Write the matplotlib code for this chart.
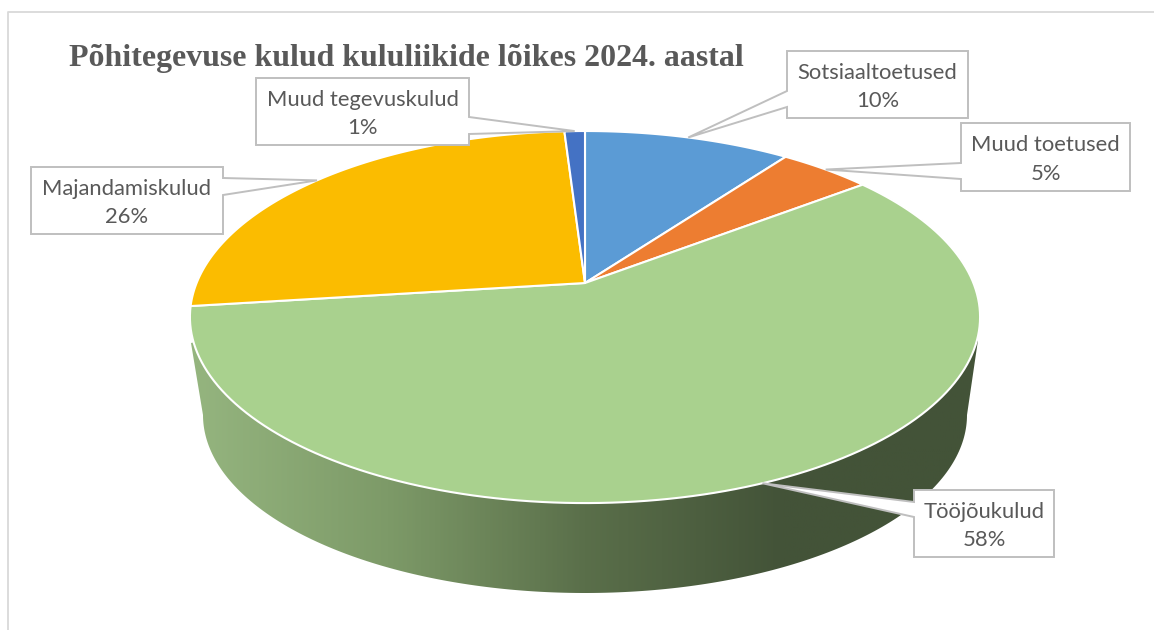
import matplotlib
matplotlib.use('Agg')
import matplotlib.pyplot as plt
import numpy as np
from matplotlib.colors import LinearSegmentedColormap
from matplotlib.patches import Polygon

title = 'Põhitegevuse kulud kululiikide lõikes 2024. aastal'
categories = ['Sotsiaaltoetused', 'Muud toetused', 'Tööjõukulud', 'Majandamiskulud', 'Muud tegevuskulud']
shares = [10.1, 4.51, 58.39, 26.0, 1.0]
colors = ['#5b9bd5', '#ed7d31', '#a9d18e', '#fbbc00', '#4472c4']

# label box (left, top, right, bottom), leader side x, leader y at the box
boxes = [(787, 51, 968, 118), (961, 123, 1130, 191), (914, 490, 1054, 557), (31, 167, 223, 234), (256, 78, 469, 145)]
leader_y = [(91, 107), (163, 179), (502, 517), (178, 195), (117, 134)]
leader_side = [787, 961, 914, 223, 469]

# pie top is a circle seen in perspective
apex_x, apex_y = 585, 283
rx, ry, persp = 388.4, 179.8, 0.183


def rim(pct):
    a = np.radians(np.asarray(pct) * 3.6)
    u, v = np.sin(a), np.cos(a)
    d = 1 + persp * v
    return apex_x + rx * u / d, apex_y - ry * v / d


fig = plt.figure(figsize=(11.54, 6.3), dpi=100)
ax = fig.add_axes([0, 0, 1, 1])

# chart frame
ax.plot([8, 8, 1154], [630, 12, 12], color='#d9d9d9', lw=1.3)

# side of the pie, gradient clipped to its outline
t = np.linspace(0, np.pi, 200)
bx = 585 + 382 * np.cos(t)
by = 415 + 178 * np.sin(t)
tx, ty = rim(np.linspace(73, 14.6, 200))
side_x = np.r_[tx, 191, 203, bx[::-1], 967, 978]
side_y = np.r_[ty, 343, 415, by[::-1], 415, 340]
side = Polygon(np.c_[side_x, side_y], closed=True, fc='none', ec='none')
ax.add_patch(side)
cmap = LinearSegmentedColormap.from_list('side', ['#95b57f', '#7d9a68', '#5a6f4a', '#435338', '#435338'])
grad = np.linspace(0, 1, 400).reshape(1, -1)
im = ax.imshow(grad, extent=[190, 980, 600, 300], cmap=cmap, aspect='auto', zorder=1)
im.set_clip_path(side)
ax.set_xlim(0, 1154)
ax.set_ylim(630, 0)
ax.axis('off')

# slices on top
edges = np.r_[0, np.cumsum(shares)]
for i, color in enumerate(colors):
    x, y = rim(np.linspace(edges[i], edges[i + 1], 150))
    ax.fill(np.r_[apex_x, x], np.r_[apex_y, y], fc=color, ec='white', lw=1.5, zorder=2, joinstyle='round')

# label boxes with leaders to the slice middle
for i, name in enumerate(categories):
    mid = (edges[i] + edges[i + 1]) / 2
    tip = rim(mid)
    l, t_, r, b = boxes[i]
    y0, y1 = leader_y[i]
    if leader_side[i] == l:
        pts = [(l, t_), (r, t_), (r, b), (l, b), (l, y1), tip, (l, y0)]
    else:
        pts = [(l, t_), (r, t_), (r, y0), tip, (r, y1), (r, b), (l, b)]
    ax.add_patch(Polygon(pts, closed=True, fc='white', ec='#bfbfbf', lw=1.4, zorder=3))
    ax.text((l + r) / 2, (t_ + b) / 2 + 2.5, f'{name}\n{round(shares[i])}%', ha='center', va='center',
            family='Lato', fontsize=15.8, color='#595959', linespacing=1.56, zorder=4)

ax.text(406, 58.5, title, ha='center', va='center', family='Liberation Serif', weight='bold',
        fontsize=22.95, color='#595959', zorder=4)

fig.savefig('out.png', dpi=100)
